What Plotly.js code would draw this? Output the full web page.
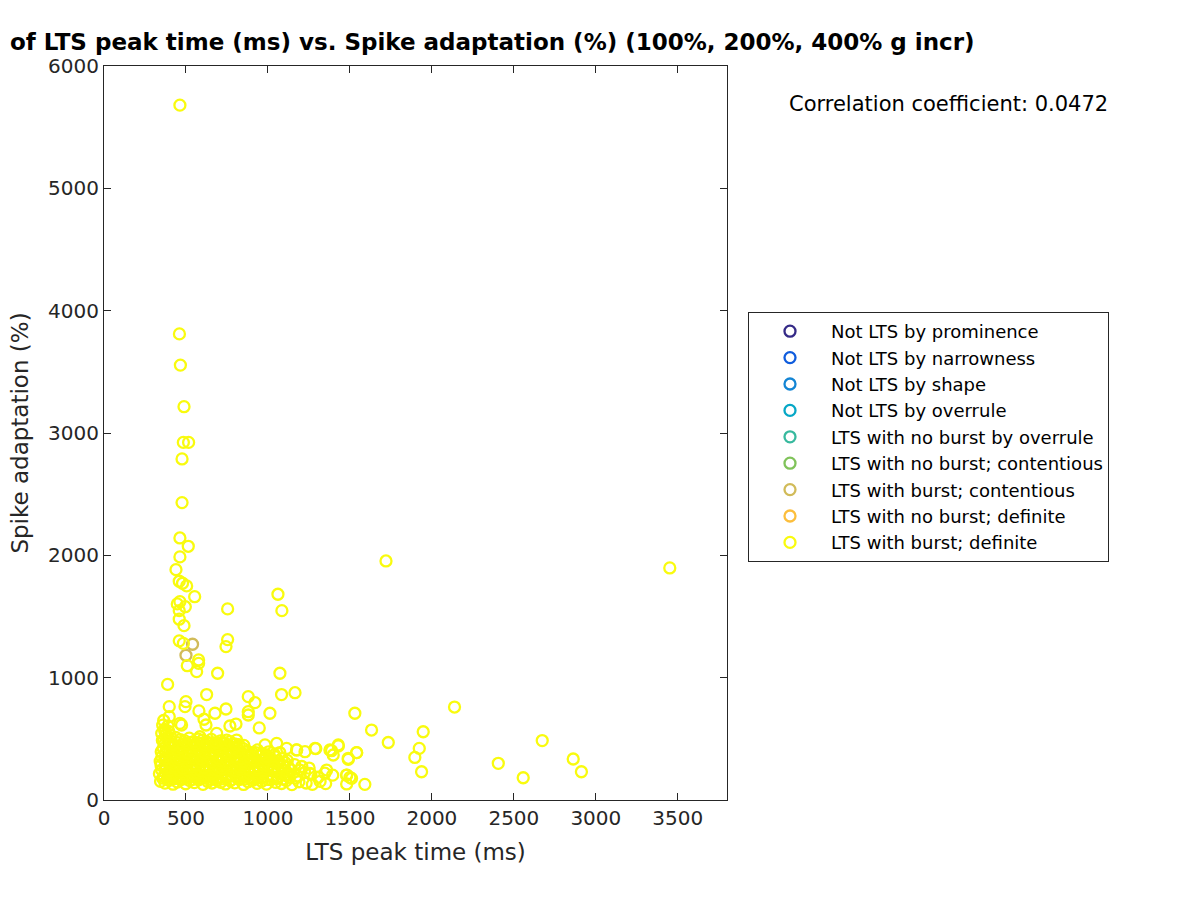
<!DOCTYPE html>
<html>
<head>
<meta charset="utf-8">
<script src="https://cdn.plot.ly/plotly-3.0.1.min.js"></script>
<style>html,body{margin:0;padding:0;background:#fff;}#chart{width:1200px;height:900px;}</style>
</head>
<body>
<div id="chart"></div>
<script>
// Legend categories (only the last two contain points)
const categories = [
  "Not LTS by prominence",
  "Not LTS by narrowness",
  "Not LTS by shape",
  "Not LTS by overrule",
  "LTS with no burst by overrule",
  "LTS with no burst; contentious",
  "LTS with burst; contentious",
  "LTS with no burst; definite",
  "LTS with burst; definite"
];
const categoryColors = ["#352A87","#0F5CDD","#1485D4","#06A7C6","#38B99E","#80C35A","#D1BB59","#FCBE3C","#F9FB0E"];

// LTS with burst; contentious
const contentiousBurstX = [540, 500];
const contentiousBurstY = [1273, 1183];

// LTS with burst; definite : outliers
const definiteOutX = [463,460,466,488,484,516,476,476,463,514,463,439,459,479,504,553,1061,1085,754,447,463,496,459,459,488,754,744,459,484,508,577,577,565,693,1073,388,626,1083,1165,398,500,494,880,921,579,677,744,880,880,1012,398,390,463,610,622,768,805,947,1530,1632,1734,1947,1923,1896,1937,2138,2405,2557,2673,2862,2912,1591,1541,1490,1429,1388,1292,1175,1480,1500,1480,1720,3451,585,687,748,809,372,362,473];
const definiteOutY = [5680,3810,3555,3215,2923,2923,2788,2431,2142,2074,1987,1883,1788,1772,1750,1662,1682,1548,1562,1603,1621,1580,1548,1478,1425,1311,1254,1301,1280,1098,1145,1117,1049,1036,1036,945,862,862,877,763,804,763,845,796,728,709,744,722,695,709,681,605,627,660,613,605,621,589,709,572,470,558,422,348,231,760,300,182,486,335,231,128,387,332,442,403,420,409,204,185,131,1954,1897,517,545,490,490,558,490,613];

// LTS with burst; definite : dense cluster, read band by band
const band1X = [345,372,398,421,447,470,498,523,551,577,604,633,659,688,712,741,770,797,826,851,879,905,934,962,991,1018,1047,1083,1112,1146,1189,1233,1271,1318,1352];
const band1Y = [152,138,161,129,147,170,133,158,142,165,128,151,139,162,145,131,156,140,168,127,149,160,136,153,130,166,144,135,158,126,149,139,128,152,134];
const bandAX = [358,385,410,434,458,484,510,536,562,589,615,641,667,694,720,748,775,803,830,857,885,912,940,968,996,1026,1060,1095,1128,1168];
const bandAY = [178,169,184,175,191,172,181,168,187,176,183,170,179,186,173,182,167,189,177,171,185,174,180,188,169,183,176,172,185,179];
const band2X = [338,366,391,414,440,463,489,514,540,566,593,618,646,671,699,726,752,779,808,833,861,889,916,944,975,1003,1034,1065,1098,1131,1178,1224,1262,1306,1347,1395];
const band2Y = [214,196,229,205,188,222,210,236,193,218,201,231,207,190,225,212,199,234,203,220,187,213,228,195,216,204,232,189,221,208,197,225,211,186,219,203];
const bandBX = [352,379,404,431,457,483,509,535,561,588,614,641,668,695,722,749,777,804,831,859,887,914,943,972,1001,1031,1063,1101,1140];
const bandBY = [246,252,239,257,244,250,241,255,247,238,253,245,249,240,256,243,251,237,248,254,242,250,246,239,253,244,249,241,247];
const band3X = [348,376,402,428,455,481,507,532,558,584,611,639,664,692,719,747,774,801,829,857,884,912,941,969,998,1027,1059,1092,1124,1163,1207,1251];
const band3Y = [283,262,297,276,291,258,305,270,288,312,264,281,299,273,257,294,279,308,266,287,301,271,259,292,278,263,296,283,270,289,274,261];
const bandCX = [343,370,396,422,449,475,501,527,553,579,606,632,658,686,713,740,767,795,823,851,879,907,935,965,995,1029,1066,1104];
const bandCY = [318,325,311,322,316,329,314,320,327,309,323,317,312,326,319,310,324,315,321,313,328,318,308,322,315,311,319,306];
const band4X = [353,381,409,436,462,487,513,539,565,591,617,644,670,697,724,751,779,806,834,862,890,918,948,979,1011,1046,1085,1118];
const band4Y = [352,338,369,347,332,361,374,343,356,335,366,349,378,341,359,334,364,350,337,371,345,330,358,342,327,352,339,324];
const bandDX = [349,375,402,429,456,483,509,536,562,589,616,643,671,698,725,753,781,809,837,865,894,925,957,990];
const bandDY = [395,388,398,384,393,401,386,396,390,399,383,394,388,402,391,385,397,389,383,392,376,388,372,368];
const band5X = [361,388,417,444,471,498,524,551,578,603,629,657,684,712,738,766,793,821,850,876,905,936,967,1004,1040,1072];
const band5Y = [421,408,437,415,428,444,411,432,419,447,424,405,439,417,430,412,426,403,420,397,385,409,378,394,370,388];
const bandEX = [370,397,424,451,479,506,533,560,588,615,642,669,697,725,753,781,809];
const bandEY = [458,465,452,468,456,461,470,455,463,451,466,457,449,462,446,455,438];
const band6X = [356,384,410,437,466,493,520,547,574,601,628,655,683,711,739,768,796,823,853];
const band6Y = [487,502,479,511,494,483,506,476,498,489,472,495,468,484,463,477,458,452,446];
const upperLeftX = [352,369,358,378,364,395,402];
const upperLeftY = [545,578,612,533,650,560,530];
const rightSideX = [982,1053,1114,1175,1226,1287,1378,1429,1398,1490,1541,1480,1510,1358,1256,1195,1114,1033,992];
const rightSideY = [450,463,422,409,395,422,409,450,368,341,387,204,177,245,218,245,204,272,354];

const definiteX = [].concat(definiteOutX, band1X, bandAX, band2X, bandBX, band3X, bandCX, band4X, bandDX, band5X, bandEX, band6X, upperLeftX, rightSideX);
const definiteY = [].concat(definiteOutY, band1Y, bandAY, band2Y, bandBY, band3Y, bandCY, band4Y, bandDY, band5Y, bandEY, band6Y, upperLeftY, rightSideY);

const xTicks = [0,500,1000,1500,2000,2500,3000,3500];
const yTicks = [0,1000,2000,3000,4000,5000,6000];
const corrText = "Correlation coefficient: 0.0472";

const dataByCat = {
  "LTS with burst; contentious": [contentiousBurstX, contentiousBurstY],
  "LTS with burst; definite": [definiteX, definiteY]
};

const traces = categories.map((name, i) => {
  const d = dataByCat[name] || [[null], [null]];
  return {
    type: 'scatter', mode: 'markers', name: name,
    x: d[0], y: d[1],
    marker: {symbol: 'circle-open', size: 11, color: categoryColors[i], line: {width: 2.3, color: categoryColors[i]}},
    hoverinfo: 'x+y'
  };
});

const axisCommon = {
  showgrid: false, zeroline: false, showline: true, mirror: 'ticks',
  ticks: 'inside', ticklen: 7, tickwidth: 1, tickcolor: '#262626',
  linecolor: '#262626', linewidth: 1,
  tickfont: {family: 'DejaVu Sans', size: 20, color: '#262626'}
};

const layout = {
  width: 1200, height: 900,
  paper_bgcolor: '#fff', plot_bgcolor: '#fff',
  margin: {l: 104, r: 473, t: 66, b: 100},
  font: {family: 'DejaVu Sans', color: '#262626'},
  title: {
    text: 'of LTS peak time (ms) vs. Spike adaptation (%) (100%, 200%, 400% g incr)',
    font: {family: 'DejaVu Sans', size: 23, color: '#000', weight: 'bold'},
    xref: 'container', yref: 'container', x: 10/1200, xanchor: 'left', y: 1 - 42/900, yanchor: 'middle'
  },
  xaxis: Object.assign({}, axisCommon, {
    range: [0, 3800], tickvals: xTicks, ticktext: xTicks.map(String),
    title: {text: 'LTS peak time (ms)', font: {family: 'DejaVu Sans', size: 23, color: '#262626'}, standoff: 14}
  }),
  yaxis: Object.assign({}, axisCommon, {
    range: [0, 6000], tickvals: yTicks, ticktext: yTicks.map(String),
    title: {text: 'Spike adaptation (%)', font: {family: 'DejaVu Sans', size: 23, color: '#262626'}, standoff: 13}
  }),
  showlegend: true,
  legend: {
    x: (748-104)/623, y: (800-312)/734, xanchor: 'left', yanchor: 'top',
    xref: 'paper', yref: 'paper',
    bordercolor: '#262626', borderwidth: 1, bgcolor: '#fff',
    font: {family: 'DejaVu Sans', size: 18, color: '#000'},
    itemwidth: 72
  },
  annotations: [{
    text: corrText, xref: 'paper', yref: 'paper',
    x: (948-104)/623, y: (800-104)/734, xanchor: 'center', yanchor: 'middle',
    showarrow: false, font: {family: 'DejaVu Sans', size: 21, color: '#000'}
  }]
};

Plotly.newPlot('chart', traces, layout, {displayModeBar: false, staticPlot: true});
</script>
</body>
</html>
